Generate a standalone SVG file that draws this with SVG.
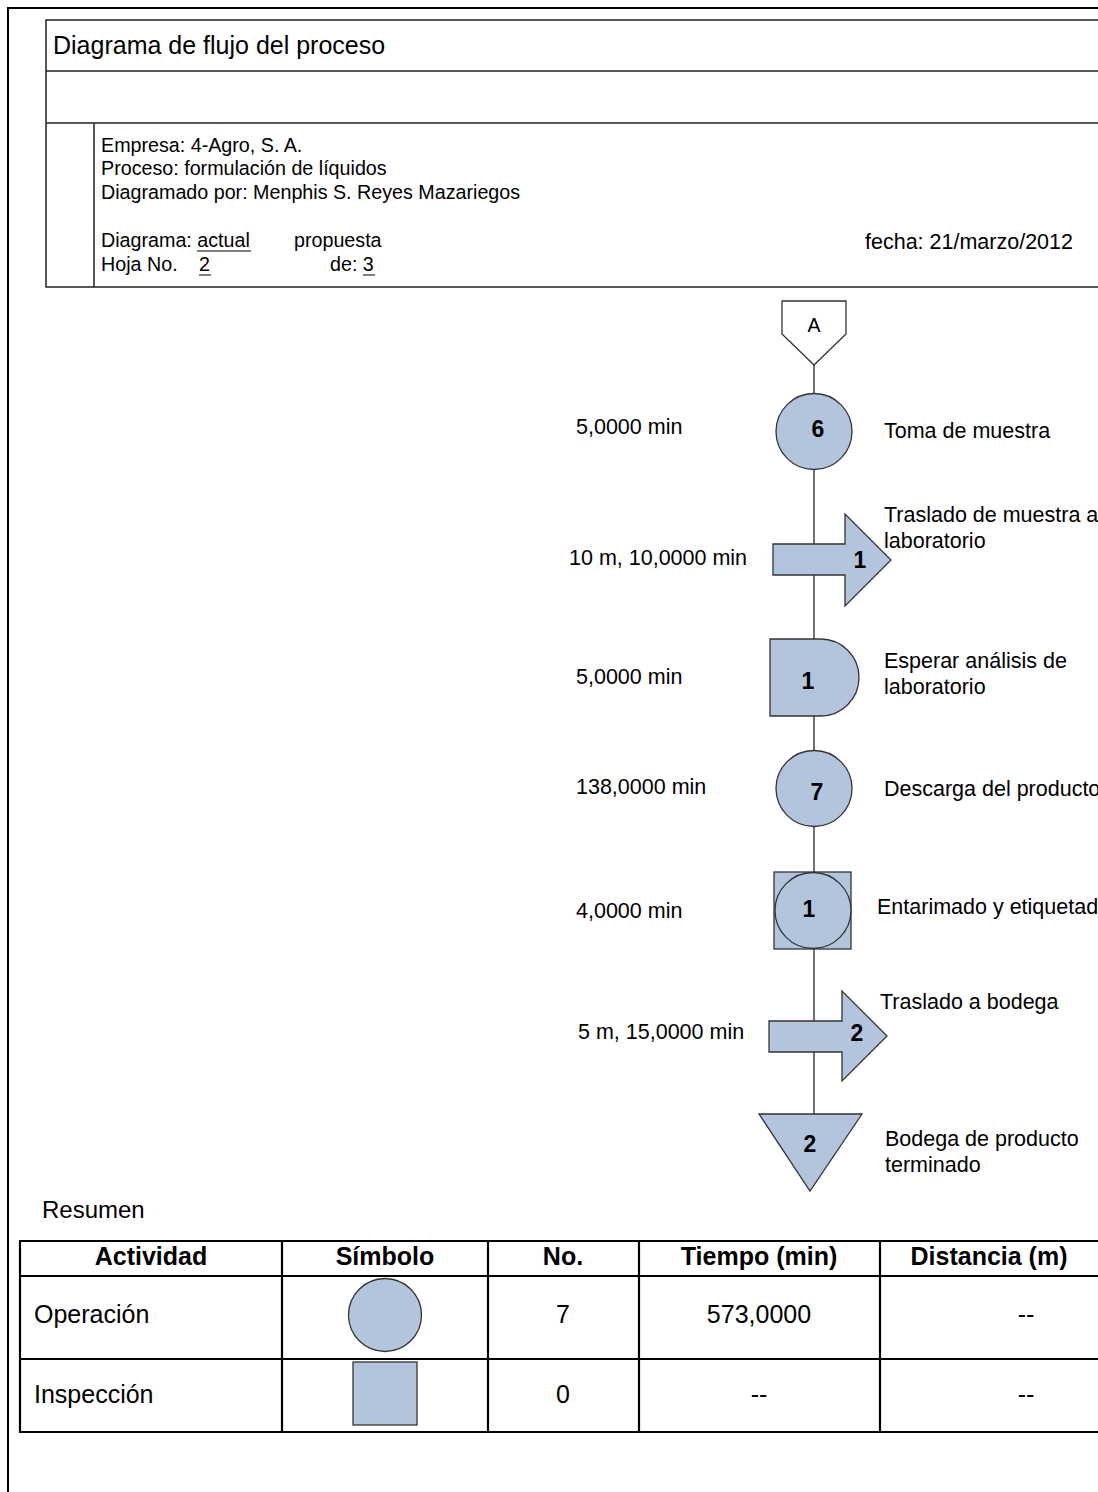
<svg xmlns="http://www.w3.org/2000/svg" width="1098" height="1492" viewBox="0 0 1098 1492">
<style>
text{font-family:"Liberation Sans",Arial,sans-serif;fill:#000}
.frame{fill:none;stroke:#000;stroke-width:2}
.hl{fill:none;stroke:#222;stroke-width:1.5}
.shape{fill:#b3c5dd;stroke:#333;stroke-width:1.3}
.conn{fill:none;stroke:#444;stroke-width:1.5}
.num{font-weight:bold;font-size:23px;text-anchor:middle}
.lab{font-size:21.5px}
.info{font-size:19.7px}
.th{font-weight:bold;font-size:25px;text-anchor:middle}
.td{font-size:25px}
.tdc{font-size:25px;text-anchor:middle}
.tl{fill:none;stroke:#000;stroke-width:2.2}
</style>
<rect width="1098" height="1492" fill="#fff"/>
<g id="frame">
<path class="frame" d="M1100,8 H8 V1494"/>
</g>
<g id="header">
<path class="hl" d="M1100,20 H46 V287 H1100 M46,71 H1100 M46,123 H1100 M94,123 V287"/>
<text x="53" y="54" font-size="25">Diagrama de flujo del proceso</text>
<text class="info" x="101" y="152">Empresa: 4-Agro, S. A.</text>
<text class="info" x="101" y="175">Proceso: formulación de líquidos</text>
<text class="info" x="101" y="199">Diagramado por: Menphis S. Reyes Mazariegos</text>
<text class="info" x="101" y="247">Diagrama: actual</text>
<text class="info" x="294" y="247">propuesta</text>
<text class="info" x="101" y="271">Hoja No.</text>
<text class="info" x="199" y="271">2</text>
<text class="info" x="330" y="271">de: 3</text>
<path stroke="#000" stroke-width="1.2" d="M197,251 H251 M199,275 H211 M363,275 H375"/>
<text x="865" y="249" font-size="21.5">fecha: 21/marzo/2012</text>
</g>
<g id="connectors">
<line class="conn" x1="814" y1="365" x2="814" y2="1114"/>
</g>
<g id="connA">
<path d="M782,301 H846 V334 L814,365 L782,334 Z" fill="#fff" stroke="#333" stroke-width="1.3"/>
<text x="814" y="332" font-size="19.5" text-anchor="middle">A</text>
</g>
<g id="op6">
<circle class="shape" cx="814" cy="431.5" r="38"/>
<text class="num" x="818" y="437">6</text>
<text class="lab" x="576" y="434">5,0000 min</text>
<text class="lab" x="884" y="438">Toma de muestra</text>
</g>
<g id="tr1">
<path class="shape" d="M773,544 H845 V514 L891,560 L845,606 V575 H773 Z"/>
<text class="num" x="860" y="568">1</text>
<text class="lab" x="569" y="565">10 m, 10,0000 min</text>
<text class="lab" x="884" y="522">Traslado de muestra a</text>
<text class="lab" x="884" y="548">laboratorio</text>
</g>
<g id="delay1">
<path class="shape" d="M770,639 H820.5 A38.5,38.5 0 0 1 820.5,716 H770 Z"/>
<text class="num" x="808" y="689">1</text>
<text class="lab" x="576" y="684">5,0000 min</text>
<text class="lab" x="884" y="668">Esperar análisis de</text>
<text class="lab" x="884" y="694">laboratorio</text>
</g>
<g id="op7">
<circle class="shape" cx="814" cy="788.5" r="38"/>
<text class="num" x="817" y="800">7</text>
<text class="lab" x="576" y="794">138,0000 min</text>
<text class="lab" x="884" y="796">Descarga del producto</text>
</g>
<g id="comb1">
<rect class="shape" x="774" y="872" width="77" height="77"/>
<circle class="shape" cx="813" cy="910.5" r="38"/>
<text class="num" x="809" y="917">1</text>
<text class="lab" x="576" y="918">4,0000 min</text>
<text class="lab" x="877" y="914">Entarimado y etiquetado</text>
</g>
<g id="tr2">
<path class="shape" d="M769,1021 H842 V991 L887,1036 L842,1081 V1052 H769 Z"/>
<text class="num" x="857" y="1041">2</text>
<text class="lab" x="578" y="1039">5 m, 15,0000 min</text>
<text class="lab" x="880" y="1009">Traslado a bodega</text>
</g>
<g id="store2">
<path class="shape" d="M759,1114 H862 L810,1191 Z"/>
<text class="num" x="810" y="1152">2</text>
<text class="lab" x="885" y="1146">Bodega de producto</text>
<text class="lab" x="885" y="1172">terminado</text>
</g>
<g id="summary">
<text x="42" y="1218" font-size="24">Resumen</text>
<path class="tl" d="M1100,1241 H20 V1432 H1100 M20,1276 H1100 M20,1359 H1100 M282,1241 V1432 M488,1241 V1432 M639,1241 V1432 M880,1241 V1432"/>
<text class="th" x="151" y="1265">Actividad</text>
<text class="th" x="385" y="1265">Símbolo</text>
<text class="th" x="563" y="1265">No.</text>
<text class="th" x="759" y="1265">Tiempo (min)</text>
<text class="th" x="989" y="1265">Distancia (m)</text>
<text class="td" x="34" y="1323">Operación</text>
<circle class="shape" cx="385" cy="1315" r="36.5"/>
<text class="tdc" x="563" y="1323">7</text>
<text class="tdc" x="759" y="1323">573,0000</text>
<text class="tdc" x="1026" y="1323">--</text>
<text class="td" x="34" y="1403">Inspección</text>
<rect class="shape" x="353" y="1362" width="64" height="63"/>
<text class="tdc" x="563" y="1403">0</text>
<text class="tdc" x="759" y="1403">--</text>
<text class="tdc" x="1026" y="1403">--</text>
</g>
</svg>
